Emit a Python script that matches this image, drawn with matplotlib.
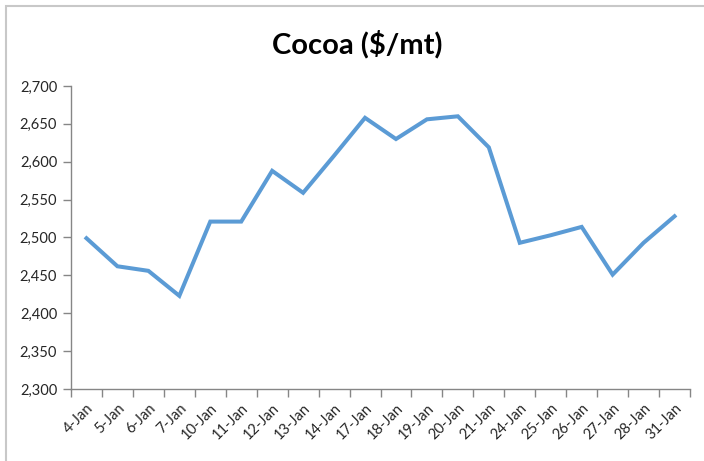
import numpy as np
import matplotlib.pyplot as plt
from matplotlib.patches import Rectangle
from matplotlib.ticker import FuncFormatter, MultipleLocator

dates = ['4-Jan', '5-Jan', '6-Jan', '7-Jan', '10-Jan', '11-Jan', '12-Jan', '13-Jan',
         '14-Jan', '17-Jan', '18-Jan', '19-Jan', '20-Jan', '21-Jan', '24-Jan', '25-Jan',
         '26-Jan', '27-Jan', '28-Jan', '31-Jan']
prices = [2499, 2462, 2456, 2423, 2521, 2521, 2588, 2559, 2608, 2658,
          2630, 2656, 2660, 2619, 2493, 2503, 2514, 2451, 2493, 2528]

plt.rcParams['font.family'] = ['Lato', 'DejaVu Sans']

fig = plt.figure(figsize=(7.04, 4.61), dpi=100)
ax = fig.add_axes([71 / 704, 1 - 389 / 461, 619 / 704, 303 / 461])

# chart frame
fig.patches.append(Rectangle((6 / 704, -0.05), 1.1, 1 - 6 / 461 + 0.05,
                             transform=fig.transFigure, fill=False,
                             edgecolor='#c8c8c8', linewidth=1.5))

x = np.arange(len(dates))
ax.plot(x, prices, color='#5b9bd5', linewidth=2.9, solid_joinstyle='miter')

ax.set_xlim(-0.5, len(dates) - 0.5)
ax.set_ylim(2300, 2700)
ax.yaxis.set_major_locator(MultipleLocator(50))
ax.yaxis.set_major_formatter(FuncFormatter(lambda v, p: f'{v:,.0f}'))

ax.set_xticks(x)
ax.set_xticklabels(dates, rotation=45, ha='right', rotation_mode='anchor')
ax.set_xticks(np.arange(-0.5, len(dates)), minor=True)
ax.tick_params(axis='x', which='major', length=0, pad=9)
ax.tick_params(axis='x', which='minor', length=6, color='#868686', width=1)
ax.tick_params(axis='y', length=6, color='#868686', width=1, pad=4)
ax.tick_params(labelsize=10.5, labelcolor='#262626')

for s in ['top', 'right']:
    ax.spines[s].set_visible(False)
for s in ['left', 'bottom']:
    ax.spines[s].set_color('#868686')
    ax.spines[s].set_linewidth(1)

fig.text(357 / 704, 1 - 44 / 461, 'Cocoa ($/mt)', ha='center', va='center',
         fontsize=21, fontweight='bold', color='#000000')

fig.savefig('out.png', dpi=100)
